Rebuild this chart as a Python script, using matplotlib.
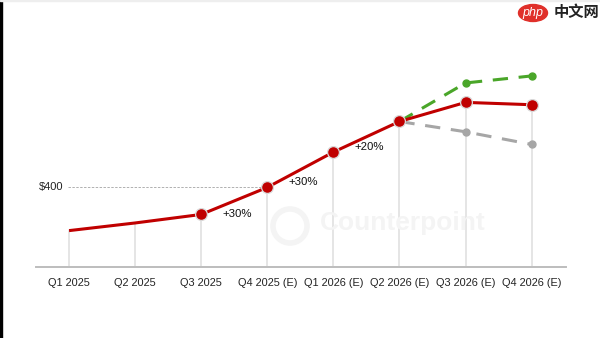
import matplotlib
matplotlib.use("Agg")
import matplotlib.pyplot as plt
from matplotlib.patches import Rectangle, Ellipse

plt.rcParams['font.family'] = ['Liberation Sans', 'DejaVu Sans']

# quarterly ASP, base case plus the bull / bear outlook
quarters = ["Q1 2025", "Q2 2025", "Q3 2025", "Q4 2025 (E)",
            "Q1 2026 (E)", "Q2 2026 (E)", "Q3 2026 (E)", "Q4 2026 (E)"]
base = [253, 279, 308, 400, 520, 624, 689, 681]
bull = [624, 755, 779]     # Q2 2026 .. Q4 2026
bear = [624, 589, 546]
growth = ["+30%", "+30%", "+20%"]   # shown at Q3 2025, Q4 2025, Q1 2026
ref_value = 400

W, H = 600, 338
fig = plt.figure(figsize=(W / 100, H / 100), dpi=100)
ax = fig.add_axes([36 / W, (H - 266.5) / H, 530 / W, 256 / H])

x = list(range(len(quarters)))
ax.set_xlim(-0.50, 7.52)
ax.set_ylim(131, 131 + 256 * 3.4)

red = "#c00000"
green = "#4aa629"
grey = "#a6a6a6"

# drop lines from each point to the axis
for i, v in zip(x, base):
    ax.plot([i, i], [131, v], color="#dedede", lw=1.1, zorder=1)

# reference line at $400
ax.plot([-0.02, 3], [ref_value, ref_value], color="#b0b0b0", lw=0.7,
        ls=(0, (2.5, 1.5)), zorder=1)
ax.text(-0.09, ref_value, "$" + str(ref_value), ha="right", va="center",
        fontsize=8, color="#222222")

# scenarios
ax.plot(x[5:], bull, color=green, lw=2.2, ls=(0, (5, 3.5)), zorder=2)
ax.plot(x[6:], bull[1:], "o", color=green, ms=5, zorder=3)
ax.plot(x[5:], bear, color=grey, lw=2.2, ls=(0, (5, 3.5)), zorder=2)
ax.plot(x[6:], bear[1:], "o", color=grey, ms=5, zorder=3)

ax.plot(x, base, color=red, lw=2.2, zorder=4, solid_capstyle="butt")
ax.plot(x[2:], base[2:], "o", color=red, ms=8.5, mec="#d9d9d9", mew=0.9,
        zorder=5)

for i, lab in zip(x[2:5], growth):
    ax.annotate(lab, (i, base[i]), xytext=(15, 0), textcoords="offset points",
                ha="left", va="bottom" if i > 2 else "center",
                fontsize=8.2, color="#111111")

ax.set_xticks(x)
ax.set_xticklabels(quarters, fontsize=7.9, color="#222222")
ax.tick_params(axis="x", length=0, pad=8)
ax.set_yticks([])
for s in ["top", "right", "left"]:
    ax.spines[s].set_visible(False)
ax.spines["bottom"].set_color("#bdbdbd")
ax.spines["bottom"].set_linewidth(1.4)
ax.patch.set_alpha(0)

# faint brand mark behind the data
fig.patches.append(Ellipse((290 / W, 1 - 226 / H), 34 / W, 34 / H,
                           transform=fig.transFigure, fill=False, ec="#f4f4f4",
                           lw=4, zorder=0))
fig.text(320 / W, 1 - 223 / H, "Counterpoint", fontsize=19, fontweight="bold",
         color="#f4f4f4", va="center", ha="left", zorder=0)

# site stamp, top right
fig.patches.append(Ellipse((533 / W, 1 - 13 / H), 29 / W, 17 / H,
                           transform=fig.transFigure, color="#e0302a", zorder=6))
fig.text(533 / W, 1 - 13 / H, "php", fontsize=9, color="white", style="italic",
         ha="center", va="center", zorder=7)
fig.text(599 / W, 1 - 12 / H, "中文网", fontsize=11, color="#222222",
         fontweight="bold", family=["Noto Sans CJK SC", "DejaVu Sans"],
         ha="right", va="center", zorder=7)

# frame edges
fig.patches.append(Rectangle((0, 0), 2 / W, 1, transform=fig.transFigure,
                             color="black", zorder=8))
fig.patches.append(Rectangle((0, 1 - 1 / H), 1, 1 / H, transform=fig.transFigure,
                             color="#eeeeee", zorder=8))

fig.savefig("out.png", dpi=100, facecolor="white")
